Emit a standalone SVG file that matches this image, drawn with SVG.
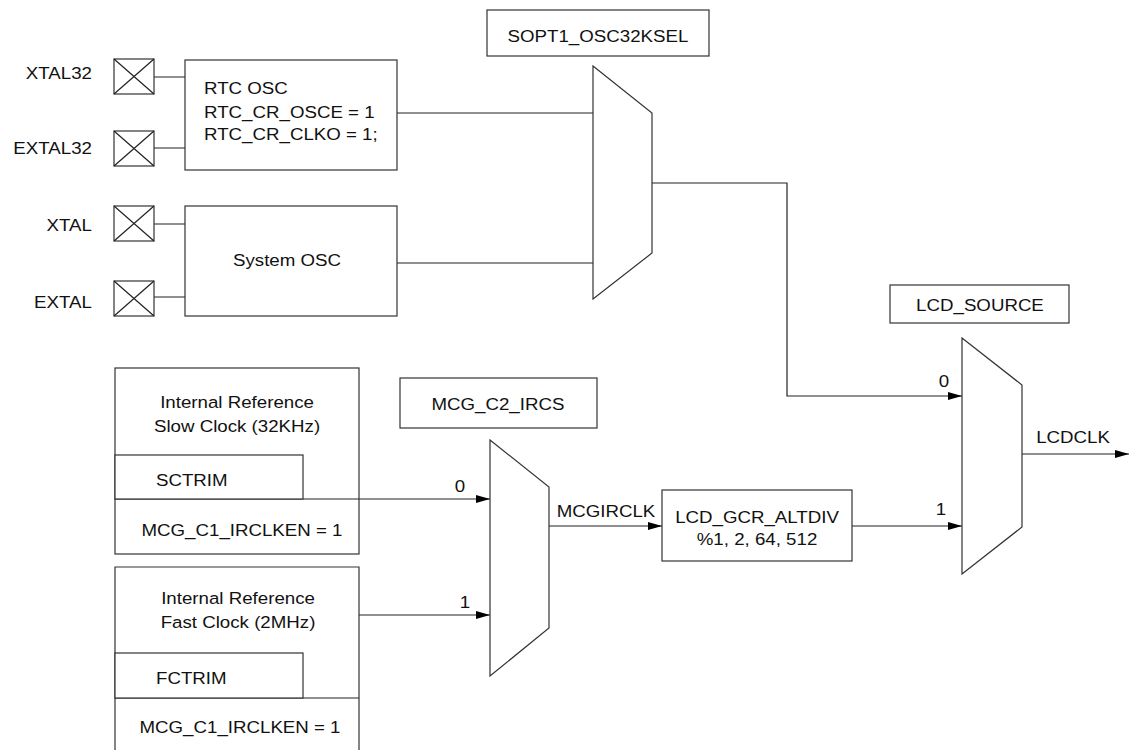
<svg xmlns="http://www.w3.org/2000/svg" width="1129" height="750" viewBox="0 0 1129 750">
<style>
.s{fill:#fff;stroke:#333;stroke-width:1.2}
.w{fill:none;stroke:#222;stroke-width:1.2}
.t{font-family:"Liberation Sans",Arial,sans-serif;font-size:17px;fill:#111}
.m{text-anchor:middle}
.e{text-anchor:end}
</style>
<defs>
<marker id="ah" markerWidth="15" markerHeight="10" refX="14" refY="5" orient="auto" markerUnits="userSpaceOnUse">
<path d="M0,1 L14,5 L0,9 Z" fill="#000"/>
</marker>
<g id="padshape">
<rect x="0" y="0" width="40" height="35" class="s"/>
<path d="M0,0 L40,35 M40,0 L0,35" class="w"/>
</g>
</defs>
<rect width="1129" height="750" fill="#fff"/>

<g id="connectors">
<path d="M154,77 H185 M154,148 H185 M154,224 H185 M154,297 H185" class="w"/>
<path d="M397,113 H593 M397,263 H593" class="w"/>
<path d="M652,183 H787 V396 H962" class="w" marker-end="url(#ah)"/>
<path d="M303,499 H490" class="w" marker-end="url(#ah)"/>
<path d="M359,615 H490" class="w" marker-end="url(#ah)"/>
<path d="M549,526 H662" class="w" marker-end="url(#ah)"/>
<path d="M852,526 H962" class="w" marker-end="url(#ah)"/>
<path d="M1022,454 H1129" class="w" marker-end="url(#ah)"/>
</g>

<g id="pad_xtal32"><use href="#padshape" x="114" y="59"/></g>
<g id="pad_extal32"><use href="#padshape" x="114" y="131"/></g>
<g id="pad_xtal"><use href="#padshape" x="114" y="206"/></g>
<g id="pad_extal"><use href="#padshape" x="114" y="281"/></g>

<g id="rtc_osc"><rect x="185" y="60" width="212" height="110" class="s"/></g>
<g id="sys_osc"><rect x="185" y="206" width="212" height="110" class="s"/></g>
<g id="sopt1"><rect x="487" y="10" width="222" height="46" class="s"/></g>
<g id="mux1"><path d="M593,66 L652,113 L652,253 L593,299 Z" class="s"/></g>
<g id="lcd_source"><rect x="890" y="285" width="179" height="38" class="s"/></g>
<g id="mux3"><path d="M962,338 L1022,385 L1022,527 L962,574 Z" class="s"/></g>
<g id="irc_slow">
<rect x="115" y="368" width="244" height="186" class="s"/>
<path d="M115,499 H359" class="w"/>
<rect x="115" y="455" width="188" height="44" class="s"/>
</g>
<g id="irc_fast">
<path d="M115,752 V567 H359 V752" class="s"/>
<path d="M115,698 H359" class="w"/>
<rect x="115" y="653" width="188" height="45" class="s"/>
</g>
<g id="mcg_c2"><rect x="400" y="378" width="197" height="50" class="s"/></g>
<g id="mux2"><path d="M490,440 L549,487 L549,628 L490,676 Z" class="s"/></g>
<g id="lcd_gcr"><rect x="662" y="490" width="190" height="71" class="s"/></g>

<g id="labels" transform="scale(1.1 1)" class="t">
<text x="83.6" y="79" class="e">XTAL32</text>
<text x="83.6" y="154" class="e">EXTAL32</text>
<text x="83.6" y="231" class="e">XTAL</text>
<text x="83.6" y="308" class="e">EXTAL</text>
<text x="185.5" y="94">RTC OSC</text>
<text x="185.5" y="118">RTC_CR_OSCE = 1</text>
<text x="185.5" y="140">RTC_CR_CLKO = 1;</text>
<text x="260.9" y="266" class="m">System OSC</text>
<text x="543.6" y="42" class="m">SOPT1_OSC32KSEL</text>
<text x="890.9" y="311" class="m">LCD_SOURCE</text>
<text x="215.5" y="408" class="m">Internal Reference</text>
<text x="215.5" y="432" class="m">Slow Clock (32KHz)</text>
<text x="141.8" y="486">SCTRIM</text>
<text x="220" y="536" class="m">MCG_C1_IRCLKEN = 1</text>
<text x="216.4" y="604" class="m">Internal Reference</text>
<text x="216.4" y="628" class="m">Fast Clock (2MHz)</text>
<text x="141.8" y="684">FCTRIM</text>
<text x="218.2" y="733" class="m">MCG_C1_IRCLKEN = 1</text>
<text x="452.7" y="410" class="m">MCG_C2_IRCS</text>
<text x="418.2" y="492" class="m">0</text>
<text x="422.7" y="608" class="m">1</text>
<text x="550.9" y="517" class="m">MCGIRCLK</text>
<text x="688.2" y="523" class="m">LCD_GCR_ALTDIV</text>
<text x="688.2" y="545" class="m">%1, 2, 64, 512</text>
<text x="858.2" y="387" class="m">0</text>
<text x="855.5" y="515" class="m">1</text>
<text x="975.5" y="443" class="m">LCDCLK</text>
</g>
</svg>
